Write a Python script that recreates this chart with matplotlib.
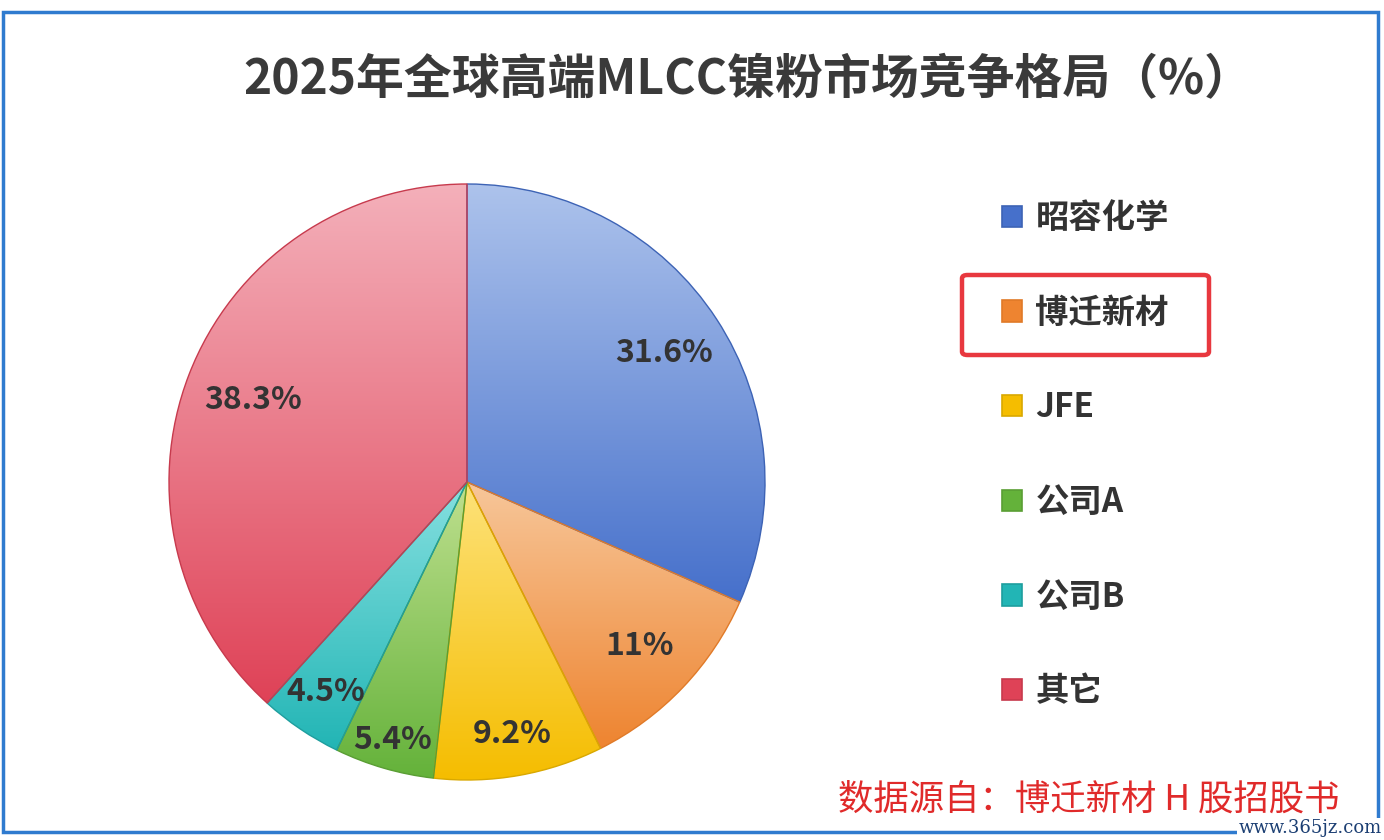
import numpy as np
import matplotlib
matplotlib.use('Agg')
import matplotlib.pyplot as plt
from matplotlib.patches import Rectangle, FancyBboxPatch
from matplotlib.colors import LinearSegmentedColormap

plt.rcParams['font.family'] = ['Noto Sans CJK SC', 'DejaVu Sans']

# data
title = '2025年全球高端MLCC镍粉市场竞争格局（%）'
companies = ['昭容化学', '博迁新材', 'JFE', '公司A', '公司B', '其它']
shares = [31.6, 11, 9.2, 5.4, 4.5, 38.3]
share_labels = ['31.6%', '11%', '9.2%', '5.4%', '4.5%', '38.3%']
source_note = '数据源自：博迁新材 H 股招股书'

# gradient colours per slice (top, bottom) and edge colour
tops = ['#adc3ec', '#f7c79a', '#fde27a', '#bfe08f', '#86e0e0', '#f4b0ba']
bottoms = ['#4670cb', '#ee8430', '#f5bd00', '#64b23a', '#22b5b5', '#df4257']
edges = ['#3d63b5', '#e07a28', '#d9a800', '#5a9e34', '#1e9e9e', '#c73a4d']
lab_r = [0.79, 0.80, 0.86, 0.90, 0.85, 0.77]  # label radius fraction

W, H = 1384, 840
fig = plt.figure(figsize=(W / 100, H / 100), dpi=100)
fig.patch.set_facecolor('white')

def px(x, y):
    return x / W, 1 - y / H

# pie axes, centre (467, 482), radius ~298 px
cx, cy, R = 467, 482, 298
ax = fig.add_axes([(cx - 300) / W, (H - cy - 300) / H, 600 / W, 600 / H])
ax.set_xlim(-300, 300)
ax.set_ylim(-300, 300)
ax.set_aspect('equal')
ax.axis('off')

wedges, _ = ax.pie(shares, radius=R, startangle=90, counterclock=False,
                   colors=bottoms, wedgeprops=dict(linewidth=1.0))

grad = np.linspace(0, 1, 256).reshape(-1, 1)
for w, t, b, e, lab, rf in zip(wedges, tops, bottoms, edges, share_labels, lab_r):
    w.set_edgecolor(e)
    ext = w.get_path().get_extents()
    cmap = LinearSegmentedColormap.from_list('g', [b, t])
    im = ax.imshow(grad, cmap=cmap, origin='lower', aspect='auto',
                   extent=[ext.x0, ext.x1, ext.y0, ext.y1], zorder=w.get_zorder() - 0.1)
    im.set_clip_path(w)
    w.set_facecolor('none')
    mid = np.deg2rad((w.theta1 + w.theta2) / 2)
    ax.text(rf * R * np.cos(mid), rf * R * np.sin(mid), lab, ha='center', va='center',
            fontsize=23, fontweight='bold', color='#333333', zorder=5)

ax.set_xlim(-300, 300)
ax.set_ylim(-300, 300)

# title
fig.text(*px(748, 80), title, ha='center', va='center', fontsize=34.5,
         fontweight='bold', color='#3a3a3a')

# legend
handles = [Rectangle((0, 0), 1, 1, facecolor=c, edgecolor=e, linewidth=1.2)
           for c, e in zip(bottoms, edges)]
fig.legend(handles, companies, loc='upper left', bbox_to_anchor=px(972, 172),
           frameon=False, labelspacing=1.85, handlelength=0.6,
           handleheight=0.6, handletextpad=0.4, prop=dict(size=24, weight='bold'),
           labelcolor='#333333')

# red highlight box around 博迁新材
x0, y0 = px(962, 355)
x1, y1 = px(1209, 275)
fig.patches.append(FancyBboxPatch((x0, y0), x1 - x0, y1 - y0,
                                  boxstyle='round,pad=0,rounding_size=0.004',
                                  transform=fig.transFigure, fill=False,
                                  edgecolor='#e8383f', linewidth=3.2))

# source note
fig.text(*px(1340, 800), source_note, ha='right', va='center', fontsize=25.5,
         color='#e02a2a')

# frame
bx0, by0 = px(3, 832)
bx1, by1 = px(1378, 12)
fig.patches.append(Rectangle((bx0, by0), bx1 - bx0, by1 - by0, transform=fig.transFigure,
                             fill=False, edgecolor='#2f7bcf', linewidth=2.5))

# watermark
fig.text(*px(1382, 828), 'www.365jz.com', ha='right', va='center', fontsize=13,
         family='DejaVu Serif', color='#1c3f73',
         bbox=dict(facecolor='white', edgecolor='none', pad=1))

fig.savefig('out.png', dpi=100)
